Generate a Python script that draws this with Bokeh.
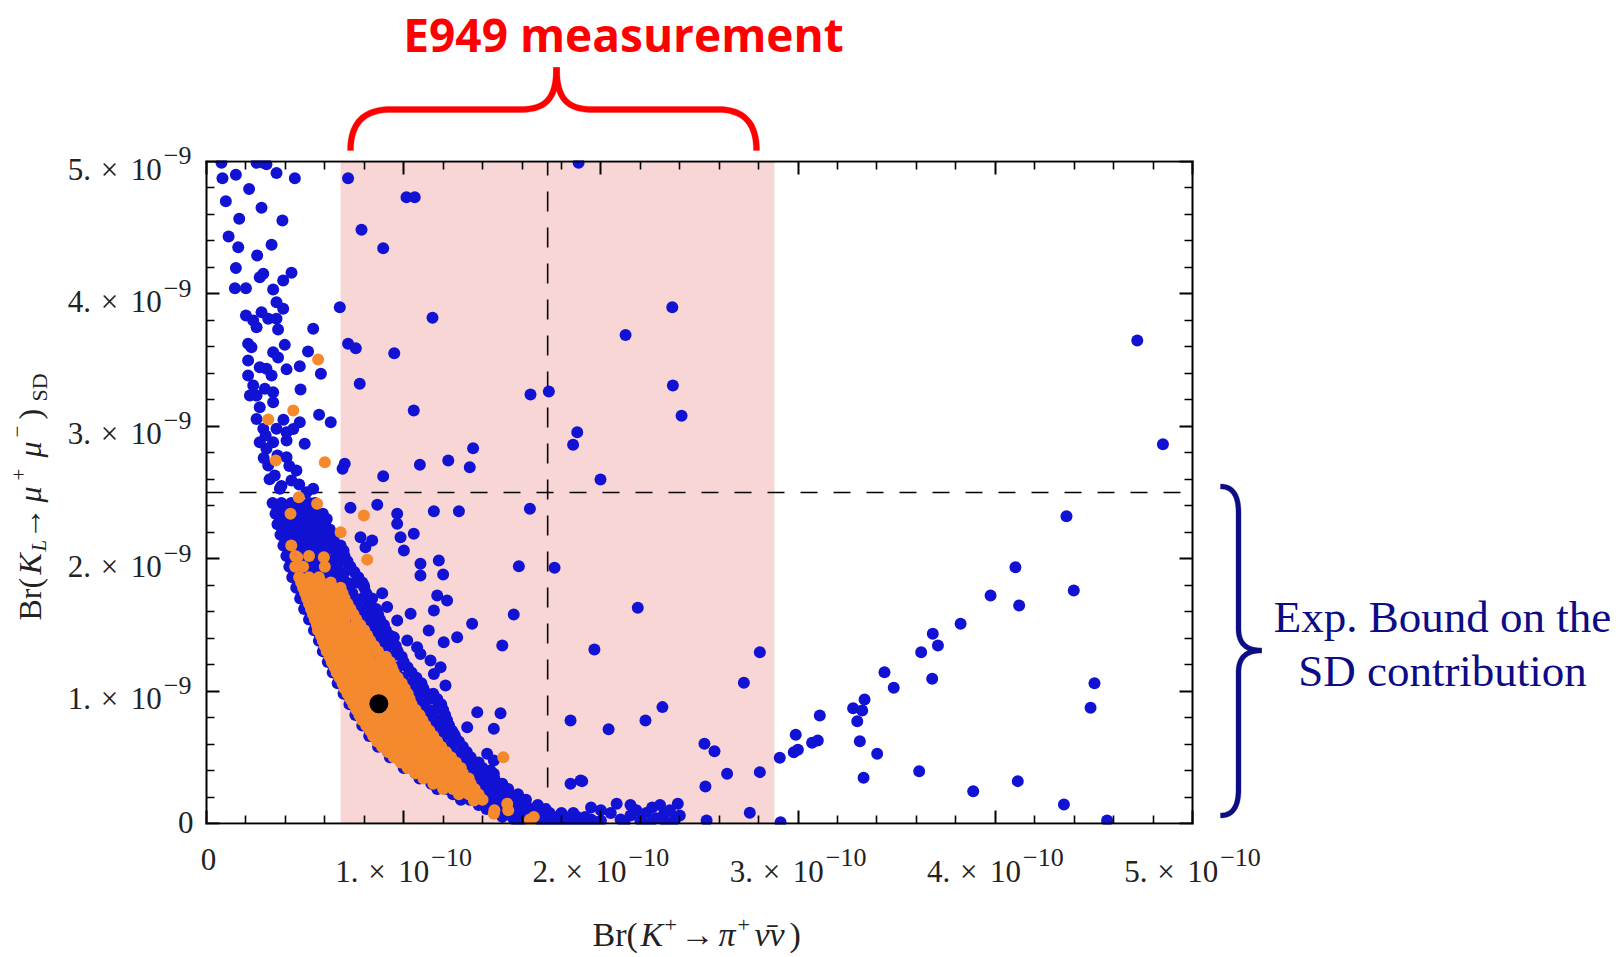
import math
from bokeh.plotting import figure
from bokeh.models import Range1d, FixedTicker, LinearAxis, Label, PolyAnnotation, BoxAnnotation
from bokeh.embed import file_html
from bokeh.resources import INLINE

# ---------------- data (x in units of 1e-10, y in units of 1e-9) ----------------
x_ticks = [0, 1, 2, 3, 4, 5]
x_tick_mantissa = ["0", "1.", "2.", "3.", "4.", "5."]
x_tick_exponent = ["", "−10", "−10", "−10", "−10", "−10"]
y_ticks = [0, 1, 2, 3, 4, 5]
y_tick_mantissa = ["0", "1.", "2.", "3.", "4.", "5."]
y_tick_exponent = ["", "−9", "−9", "−9", "−9", "−9"]
minor_ticks = [0.2, 0.4, 0.6, 0.8, 1.2, 1.4, 1.6, 1.8, 2.2, 2.4, 2.6, 2.8,
               3.2, 3.4, 3.6, 3.8, 4.2, 4.4, 4.6, 4.8]

e949_low, e949_central, e949_high = 0.68, 1.73, 2.88
sd_bound = 2.5

best_point_x = [0.874]
best_point_y = [0.904]

# dense band of blue points, read row by row (row level y, x positions)
band_blue_y = [2.42, 2.38, 2.34, 2.30, 2.26, 2.22, 2.18, 2.14, 2.10, 2.06, 2.02, 1.98,
               1.94, 1.90, 1.86, 1.82, 1.78, 1.74, 1.70, 1.66, 1.62, 1.58, 1.54, 1.50,
               1.46, 1.42, 1.38, 1.34, 1.30, 1.26, 1.22, 1.18, 1.14, 1.10, 1.06, 1.02,
               0.98, 0.94, 0.90, 0.86, 0.82, 0.78, 0.74, 0.70, 0.66, 0.62, 0.58, 0.54,
               0.50, 0.46, 0.42, 0.38, 0.34, 0.30, 0.26, 0.22, 0.18, 0.14, 0.11, 0.08,
               0.05, 0.03, 0.01]
band_blue_x = [
    [.335, .38, .43, .47, .52, .55],
    [.36, .405, .455, .50, .545],
    [.35, .395, .44, .49, .54, .59],
    [.375, .42, .465, .515, .565, .61],
    [.36, .41, .455, .50, .55, .60],
    [.385, .43, .48, .525, .575, .625],
    [.375, .42, .47, .52, .57, .62, .65],
    [.40, .445, .49, .54, .59, .645],
    [.39, .435, .48, .53, .58, .63, .68],
    [.415, .46, .505, .555, .605, .655, .695],
    [.405, .45, .50, .55, .60, .66, .70],
    [.43, .475, .525, .575, .625, .68, .715],
    [.42, .465, .51, .56, .61, .66, .73],
    [.445, .49, .54, .59, .645, .70, .75],
    [.435, .48, .53, .58, .63, .69, .77],
    [.465, .51, .56, .61, .66, .71, .765, .79],
    [.455, .50, .55, .60, .66, .72, .80],
    [.485, .53, .58, .63, .685, .74, .81],
    [.475, .52, .57, .62, .67, .73, .79, .84],
    [.505, .55, .60, .65, .70, .76, .83],
    [.495, .54, .59, .64, .69, .75, .81, .86],
    [.53, .575, .625, .675, .725, .78, .84, .87],
    [.52, .565, .61, .66, .71, .77, .83, .88],
    [.555, .60, .65, .70, .75, .80, .86, .90],
    [.545, .59, .64, .69, .74, .79, .85, .91],
    [.575, .62, .67, .72, .77, .83, .89, .93],
    [.57, .615, .66, .71, .76, .82, .88, .94],
    [.60, .645, .695, .745, .80, .86, .92, .96],
    [.59, .635, .68, .73, .78, .84, .90, .97],
    [.625, .67, .72, .77, .82, .88, .94, .99],
    [.615, .66, .71, .76, .81, .87, .93, 1.00],
    [.65, .695, .745, .795, .85, .91, .97, 1.02],
    [.64, .685, .73, .78, .83, .89, .95, 1.04],
    [.675, .72, .77, .82, .875, .935, .995, 1.065],
    [.665, .71, .76, .81, .86, .92, .98, 1.04, 1.09],
    [.70, .75, .80, .85, .905, .965, 1.03, 1.10],
    [.695, .74, .79, .84, .89, .95, 1.01, 1.08, 1.15],
    [.73, .78, .83, .88, .935, .995, 1.06, 1.13, 1.17],
    [.725, .77, .82, .87, .92, .98, 1.04, 1.10, 1.19],
    [.76, .81, .86, .91, .965, 1.025, 1.085, 1.16, 1.20],
    [.755, .80, .85, .90, .95, 1.01, 1.07, 1.14, 1.21],
    [.795, .84, .89, .94, .99, 1.05, 1.11, 1.18, 1.22],
    [.79, .835, .88, .93, .98, 1.04, 1.10, 1.17, 1.23],
    [.83, .875, .925, .975, 1.03, 1.09, 1.15, 1.21, 1.245],
    [.825, .87, .92, .97, 1.02, 1.08, 1.14, 1.20, 1.26],
    [.87, .915, .965, 1.015, 1.07, 1.13, 1.19, 1.25, 1.28],
    [.87, .915, .96, 1.01, 1.06, 1.12, 1.18, 1.24, 1.30],
    [.92, .965, 1.01, 1.06, 1.11, 1.17, 1.23, 1.29, 1.32],
    [.93, .975, 1.02, 1.07, 1.12, 1.18, 1.24, 1.29, 1.34],
    [.99, 1.035, 1.08, 1.13, 1.18, 1.24, 1.30, 1.35, 1.38],
    [1.0, 1.045, 1.09, 1.14, 1.19, 1.25, 1.31, 1.36, 1.40],
    [1.06, 1.105, 1.15, 1.20, 1.25, 1.31, 1.36, 1.41, 1.44],
    [1.08, 1.125, 1.17, 1.22, 1.27, 1.32, 1.37, 1.42, 1.46],
    [1.14, 1.185, 1.23, 1.28, 1.33, 1.38, 1.43, 1.48, 1.50],
    [1.17, 1.215, 1.26, 1.31, 1.36, 1.41, 1.46, 1.50, 1.53],
    [1.25, 1.295, 1.34, 1.39, 1.44, 1.49, 1.54, 1.58],
    [1.29, 1.335, 1.38, 1.43, 1.48, 1.53, 1.58, 1.62],
    [1.38, 1.425, 1.47, 1.52, 1.57, 1.62, 1.68],
    [1.42, 1.465, 1.51, 1.56, 1.61, 1.66, 1.72],
    [1.47, 1.52, 1.57, 1.62, 1.68, 1.74, 1.80, 1.86],
    [1.50, 1.55, 1.60, 1.65, 1.70, 1.76, 1.82, 1.88],
    [1.56, 1.61, 1.66, 1.72, 1.78, 1.84, 1.90, 1.95],
    [1.60, 1.65, 1.70, 1.75, 1.80, 1.86, 1.92, 1.98],
]

# isolated blue points (x, y)
blue_scatter = [
    (0.076, 4.99), (0.254, 4.99), (0.288, 4.99), (0.304, 4.98),
    (0.081, 4.874), (0.149, 4.90), (0.216, 4.793), (0.355, 4.914), (0.448, 4.874),
    (0.098, 4.70), (0.279, 4.65), (0.166, 4.567), (0.385, 4.554),
    (0.112, 4.434), (0.161, 4.353), (0.330, 4.371), (0.257, 4.29),
    (0.149, 4.195), (0.270, 4.126), (0.288, 4.152), (0.389, 4.101), (0.431, 4.159),
    (0.144, 4.043), (0.200, 4.043), (0.338, 4.033), (0.355, 3.937), (0.389, 3.887),
    (0.200, 3.837), (0.237, 3.799), (0.279, 3.862), (0.313, 3.812), (0.355, 3.812),
    (0.363, 3.731), (0.254, 3.749), (0.211, 3.623), (0.228, 3.597), (0.397, 3.615),
    (0.338, 3.56), (0.363, 3.52), (0.406, 3.43), (0.515, 3.565), (0.58, 3.397), (0.473, 3.454),
    (0.211, 3.497), (0.27, 3.446), (0.304, 3.434), (0.33, 3.384),
    (0.211, 3.384), (0.237, 3.308), (0.254, 3.233), (0.296, 3.283), (0.338, 3.258),
    (0.22, 3.233), (0.338, 3.182), (0.27, 3.144), (0.477, 3.278),
    (0.571, 3.087), (0.63, 3.031),
    (0.254, 3.056), (0.288, 2.981), (0.355, 2.981), (0.406, 2.955), (0.473, 3.031),
    (0.27, 2.88), (0.338, 2.88), (0.406, 2.893), (0.304, 2.83), (0.498, 2.868),
    (0.313, 2.704), (0.406, 2.767), (0.456, 2.666), (0.346, 2.628), (0.431, 2.591),
    (0.30, 2.93), (0.36, 2.78), (0.32, 2.60), (0.38, 2.55), (0.42, 2.70), (0.39, 3.05),
    (0.44, 2.98), (0.29, 2.76), (0.47, 2.56),
    (0.541, 2.528), (0.507, 2.502), (0.372, 2.528),
    (0.541, 3.736), (0.676, 3.90), (0.718, 3.623), (0.757, 3.59), (0.952, 3.552), (1.146, 3.819),
    (0.718, 4.874), (1.014, 4.73), (1.056, 4.73), (0.786, 4.484), (0.896, 4.345),
    (0.777, 3.321), (1.051, 3.119),
    (0.69, 2.679), (0.701, 2.717), (0.896, 2.623), (1.082, 2.709), (1.226, 2.742),
    (1.335, 2.691), (1.352, 2.835),
    (1.887, 4.99), (2.362, 3.90), (2.125, 3.69), (1.736, 3.263), (1.643, 3.24),
    (2.365, 3.308), (2.409, 3.08), (1.88, 2.955), (1.859, 2.86), (1.998, 2.598),
    (4.72, 3.648), (4.85, 2.865),
    (4.361, 2.321), (4.102, 1.936), (3.976, 1.722), (4.121, 1.647), (4.398, 1.76),
    (3.824, 1.508), (4.503, 1.06), (4.483, 0.874), (3.888, 0.244), (4.114, 0.32),
    (4.348, 0.143), (4.567, 0.023),
    (2.187, 1.629), (1.967, 1.314), (2.806, 1.294), (2.725, 1.063), (2.312, 0.879),
    (2.226, 0.778), (2.039, 0.712), (1.905, 0.32), (2.525, 0.602), (2.576, 0.546),
    (2.64, 0.375), (2.806, 0.388), (2.53, 0.279), (2.755, 0.081), (2.536, 0.023), (2.911, 0.01),
    (2.907, 0.496), (2.988, 0.67), (2.978, 0.539), (2.999, 0.557), (3.071, 0.61), (3.1, 0.627),
    (3.11, 0.816), (3.279, 0.871), (3.337, 0.937), (3.325, 0.853), (3.3, 0.773), (3.313, 0.622),
    (3.401, 0.526), (3.332, 0.345), (3.438, 1.143), (3.485, 1.025), (3.624, 1.294),
    (3.683, 1.433), (3.709, 1.344), (3.68, 1.093), (3.614, 0.395),
    (0.73, 2.384), (0.866, 2.407), (1.153, 2.359), (1.28, 2.359), (1.64, 2.377),
    (0.967, 2.339), (0.967, 2.264), (0.984, 2.162), (1.051, 2.188), (1.001, 2.062),
    (0.781, 2.162), (0.84, 2.137), (0.806, 2.087), (1.085, 1.961), (1.178, 1.986),
    (1.085, 1.873), (1.2, 1.881), (1.584, 1.943), (1.765, 1.931), (0.891, 1.739),
    (0.739, 1.815), (0.798, 1.798), (0.916, 1.636), (0.967, 1.533), (1.035, 1.584),
    (1.17, 1.722), (1.22, 1.684), (1.153, 1.609), (1.558, 1.579), (1.347, 1.508),
    (1.127, 1.458), (1.271, 1.407), (1.203, 1.369), (1.5, 1.344), (1.212, 1.042),
    (1.373, 0.841), (1.491, 0.833), (1.322, 0.727), (1.457, 0.715), (1.846, 0.778),
    (1.423, 0.526), (1.457, 0.476), (1.44, 0.40), (1.356, 0.40), (1.457, 0.375),
    (1.846, 0.30), (1.897, 0.325),
    (0.95, 1.407), (1.018, 1.382), (1.068, 1.332), (1.085, 1.281), (1.136, 1.231),
    (1.187, 1.18), (1.153, 1.13), (1.051, 1.03), (1.119, 0.98), (1.17, 0.929),
    (1.136, 0.853), (1.254, 0.677), (1.187, 0.652), (1.153, 0.778),
    (1.92, 0.05), (1.95, 0.12), (2.00, 0.02), (2.05, 0.08), (2.08, 0.15), (2.10, 0.03),
    (2.15, 0.06), (2.18, 0.10), (2.20, 0.02), (2.23, 0.08), (2.26, 0.12), (2.28, 0.04),
    (2.30, 0.14), (2.32, 0.07), (2.35, 0.10), (2.37, 0.02), (2.39, 0.15), (2.40, 0.06),
    (2.15, 0.14), (2.00, 0.10), (1.97, 0.00), (2.12, 0.00), (2.25, 0.00), (2.33, 0.00),
]

# orange core of the band, row by row
band_orange_y = [2.10, 2.02, 1.94, 1.86, 1.82, 1.78, 1.74, 1.70, 1.66, 1.62, 1.58, 1.54,
                 1.50, 1.46, 1.42, 1.38, 1.34, 1.30, 1.26, 1.22, 1.18, 1.14, 1.10, 1.06,
                 1.02, 0.98, 0.94, 0.90, 0.86, 0.82, 0.78, 0.74, 0.70, 0.66, 0.62, 0.58,
                 0.54, 0.50, 0.46, 0.42, 0.38, 0.34, 0.30, 0.26, 0.22, 0.18, 0.10, 0.03]
band_orange_x = [
    [.43],
    [.45, .52],
    [.45, .49, .60],
    [.47, .52, .57],
    [.48, .53, .58, .63],
    [.49, .54, .59, .64, .68],
    [.50, .55, .60, .65, .69],
    [.51, .56, .61, .66, .70],
    [.52, .57, .62, .67, .715],
    [.53, .58, .63, .68, .73],
    [.54, .59, .64, .69, .745],
    [.55, .60, .65, .70, .76],
    [.56, .605, .655, .705, .755, .78],
    [.565, .61, .66, .71, .76, .80],
    [.58, .625, .675, .725, .775, .815],
    [.59, .64, .69, .74, .79, .83],
    [.60, .65, .70, .75, .80, .85],
    [.61, .66, .71, .76, .81, .87],
    [.625, .67, .72, .77, .82, .88, .91],
    [.635, .68, .73, .78, .83, .89, .93],
    [.65, .695, .745, .795, .845, .90, .94],
    [.66, .71, .76, .81, .86, .91, .95],
    [.675, .725, .775, .825, .875, .925, .97],
    [.69, .74, .79, .84, .89, .94, .99],
    [.70, .75, .80, .85, .90, .95, 1.005],
    [.715, .76, .81, .86, .91, .96, 1.02],
    [.73, .775, .825, .875, .925, .975, 1.03],
    [.745, .79, .84, .89, .94, .99, 1.04],
    [.76, .805, .855, .905, .955, 1.005, 1.06],
    [.775, .82, .87, .92, .97, 1.02, 1.08],
    [.79, .84, .885, .935, .985, 1.035, 1.095],
    [.81, .855, .90, .95, 1.00, 1.05, 1.11],
    [.83, .875, .92, .97, 1.02, 1.07, 1.13],
    [.845, .89, .94, .99, 1.04, 1.09, 1.15],
    [.865, .91, .96, 1.01, 1.06, 1.11, 1.17],
    [.89, .935, .98, 1.03, 1.08, 1.13, 1.19],
    [.92, .965, 1.01, 1.06, 1.11, 1.16, 1.215],
    [.95, .995, 1.04, 1.09, 1.14, 1.19, 1.24],
    [.985, 1.03, 1.075, 1.125, 1.175, 1.225, 1.265],
    [1.02, 1.065, 1.11, 1.16, 1.21, 1.26, 1.29],
    [1.06, 1.105, 1.15, 1.20, 1.25, 1.30],
    [1.10, 1.145, 1.19, 1.24, 1.29, 1.33],
    [1.15, 1.20, 1.25, 1.30, 1.34],
    [1.20, 1.25, 1.30, 1.36],
    [1.28, 1.33, 1.38],
    [1.36, 1.40],
    [1.46, 1.53],
    [1.64],
]

orange_scatter = [
    (0.566, 3.505), (0.44, 3.119), (0.313, 3.051), (0.351, 2.742), (0.60, 2.729),
    (0.468, 2.465), (0.561, 2.415), (0.798, 2.326), (0.68, 2.20), (0.815, 1.993),
    (0.426, 2.339), (0.595, 2.011), (0.46, 2.011), (0.527, 1.684), (1.505, 0.501),
    (1.356, 0.174), (1.525, 0.149), (1.457, 0.073), (1.66, 0.05), (1.643, 0.015),
]

# ---------------- assemble point lists ----------------
blue_x, blue_y = [], []
for yy, row in zip(band_blue_y, band_blue_x):
    for xx in row:
        blue_x.append(xx); blue_y.append(yy)
for xx, yy in blue_scatter:
    blue_x.append(xx); blue_y.append(yy)

orange_x, orange_y = [], []
for yy, row in zip(band_orange_y, band_orange_x):
    for xx in row:
        orange_x.append(xx); orange_y.append(yy)
for xx, yy in orange_scatter:
    orange_x.append(xx); orange_y.append(yy)

# ---------------- figure ----------------
W, H = 1623, 957
FL, FR, FT, FB = 206, 1192, 161, 823   # edges of the plotting box in page pixels


def dx(X):
    return (X - FL) / (FR - FL) * 5.0


def dy(Y):
    return (FB - Y) / (FB - FT) * 5.0


p = figure(width=W, height=H, x_range=Range1d(dx(0), dx(W)), y_range=Range1d(dy(H), dy(0)),
           output_backend="svg", toolbar_location=None, title=None,
           x_axis_location=None, y_axis_location=None, min_border=0)
p.min_border_left = 0
p.min_border_right = 0
p.min_border_top = 0
p.min_border_bottom = 0
p.background_fill_color = "white"
p.border_fill_color = "white"
p.outline_line_color = None
p.xgrid.visible = False
p.ygrid.visible = False

SERIF = "Liberation Serif"
INK = "#222222"


def make_axis(loc):
    ax = LinearAxis(ticker=FixedTicker(ticks=x_ticks, minor_ticks=minor_ticks),
                    fixed_location=loc, bounds=(0, 5))
    ax.axis_line_color = "black"
    ax.axis_line_width = 2
    ax.axis_line_cap = "square"
    ax.major_tick_in = 13
    ax.major_tick_out = 0
    ax.minor_tick_in = 8
    ax.minor_tick_out = 0
    ax.major_tick_line_color = "black"
    ax.major_tick_line_width = 2
    ax.minor_tick_line_color = "black"
    ax.minor_tick_line_width = 1.6
    ax.major_label_text_font_size = "0px"
    ax.major_label_overrides = {t: "" for t in x_ticks}
    return ax


p.add_layout(make_axis(0), "below")
p.add_layout(make_axis(0), "left")
p.add_layout(make_axis(5), "above")
p.add_layout(make_axis(5), "right")

# E949 band and dashed lines
p.quad(left=[e949_low], right=[e949_high], bottom=[0], top=[5],
       fill_color="#f9d6d6", line_color=None, level="underlay")
p.line([e949_central, e949_central], [0, 5], line_color="black", line_width=1.6,
       line_dash="20 16")
p.line([0, 5], [sd_bound, sd_bound], line_color="black", line_width=1.6,
       line_dash="17 16")

# scatter points
p.scatter(blue_x, blue_y, size=12, fill_color="#1212d4", line_color=None)
p.scatter(orange_x, orange_y, size=12, fill_color="#f4892e", line_color=None)
p.scatter(best_point_x, best_point_y, size=19, fill_color="black", line_color=None)

# keep markers inside the plotting box (mask the thin strips just outside it)
px5 = 5.0 / (FB - FT)
p.add_layout(BoxAnnotation(left=dx(FL - 8), right=dx(FR + 8), bottom=5 + 1.3 * px5,
                           top=5 + 9 * px5, fill_color="white", fill_alpha=1.0,
                           line_color=None))
p.add_layout(BoxAnnotation(left=dx(FL - 8), right=dx(FR + 8), bottom=-9 * px5,
                           top=-1.3 * px5, fill_color="white", fill_alpha=1.0,
                           line_color=None))


# ---------------- texts ----------------
def label(X, Y, text, size, style="normal", color=INK, font=SERIF,
          align="left", angle=0.0):
    # (X, Y): start/center of the text baseline in page pixels
    k = 0.41 if font == "Open Sans" else 0.37
    if angle == 0.0:
        Y = Y - k * size
    else:
        X = X - k * size
    p.add_layout(Label(x=dx(X), y=dy(Y), x_units="data", y_units="data", text=text,
                       text_font=font, text_font_size=f"{size}px",
                       text_font_style=style, text_color=color, text_align=align,
                       text_baseline="alphabetic", angle=angle))


MFS, EFS = 31, 26


def exp_width(e):
    return 0.564 * EFS + 0.5 * EFS * (len(e) - 1)


def tick_label(left, base_y, mant, exp):
    label(left, base_y, mant, MFS)
    label(left + 33, base_y, "×", MFS)
    label(left + 63, base_y, "10", MFS)
    label(left + 96, base_y - 15, exp, EFS)


for v, m, e in zip(y_ticks, y_tick_mantissa, y_tick_exponent):
    ty = FB - v * (FB - FT) / 5.0
    if e == "":
        label(193, ty + 10, m, MFS, align="right")
    else:
        total = 96 + exp_width(e)
        tick_label(191 - total, ty + 19, m, e)

for v, m, e in zip(x_ticks, x_tick_mantissa, x_tick_exponent):
    tx = FL + v * (FR - FL) / 5.0
    if e == "":
        label(tx + 2, 870, m, MFS, align="center")
    else:
        total = 96 + exp_width(e)
        tick_label(tx - total / 2, 882, m, e)

# y axis title pieces: (text, baseline x, start y, size, style)
ROT = math.pi / 2
for t, bx, sy, sz, st in [("Br(", 41, 620, 32, "normal"), ("K", 41, 574, 32, "italic"),
                          ("L", 46, 551, 21, "italic"), ("→", 41, 539, 32, "normal"),
                          ("μ", 41, 502, 32, "italic"), ("+", 26, 480, 21, "normal"),
                          ("μ", 41, 457, 32, "italic"), ("−", 24, 437, 21, "normal"),
                          (")", 41, 419, 32, "normal"), ("SD", 47, 401, 22, "normal")]:
    label(bx, sy, t, sz, st, angle=ROT)

# x axis title pieces: (text, start x, baseline y, size, style)
for t, sx, by, sz, st in [("Br(", 592, 947, 34, "normal"), ("K", 640, 947, 34, "italic"),
                          ("+", 664, 933, 22, "normal"), ("→", 680, 947, 34, "normal"),
                          ("π", 718, 947, 34, "italic"), ("+", 737, 933, 22, "normal"),
                          ("ν̄ν", 754, 947, 34, "italic"), (")", 789, 947, 34, "normal")]:
    label(sx, by, t, sz, st)

# annotation texts
label(623, 52, "E949 measurement", 46, "bold", color="#ff0000", font="Open Sans",
      align="center")
label(1442, 633, "Exp. Bound on the", 45, color="#0c0c84", align="center")
label(1442, 687, "SD contribution", 45, color="#0c0c84", align="center")


# ---------------- braces ----------------
def cubic(p0, p1, p2, p3, n=24):
    out = []
    for i in range(n + 1):
        t = i / n
        a, b, c, d = (1 - t) ** 3, 3 * (1 - t) ** 2 * t, 3 * (1 - t) * t ** 2, t ** 3
        out.append((a * p0[0] + b * p1[0] + c * p2[0] + d * p3[0],
                    a * p0[1] + b * p1[1] + c * p2[1] + d * p3[1]))
    return out


def quad(p0, c, p2, n=24):
    p1 = (p0[0] + 2 / 3 * (c[0] - p0[0]), p0[1] + 2 / 3 * (c[1] - p0[1]))
    p2b = (p2[0] + 2 / 3 * (c[0] - p2[0]), p2[1] + 2 / 3 * (c[1] - p2[1]))
    return cubic(p0, p1, p2b, p2, n)


def stroke(segments, w, color):
    pts = []
    for seg in segments:
        for q in seg:
            if not pts or math.hypot(q[0] - pts[-1][0], q[1] - pts[-1][1]) > 1e-6:
                pts.append(q)
    n = len(pts)
    left, right = [], []
    for i in range(n):
        x0, y0 = pts[max(i - 1, 0)]
        x1, y1 = pts[min(i + 1, n - 1)]
        tx, ty = x1 - x0, y1 - y0
        d = math.hypot(tx, ty) or 1.0
        nx, ny = -ty / d, tx / d
        x, y = pts[i]
        left.append((x + nx * w / 2, y + ny * w / 2))
        right.append((x - nx * w / 2, y - ny * w / 2))
    poly = left + right[::-1]
    p.add_layout(PolyAnnotation(xs=[dx(a) for a, b in poly], ys=[dy(b) for a, b in poly],
                                xs_units="data", ys_units="data",
                                fill_color=color, fill_alpha=1.0,
                                line_color=color, line_width=1))


# red brace over the E949 band
stroke([quad((350, 150), (350, 109), (390, 109)), [(390, 109), (520, 109)],
        cubic((520, 109), (547, 109), (556, 96), (556, 67))], 6, "#ff0000")
stroke([cubic((556, 67), (556, 96), (565, 109), (592, 109)), [(592, 109), (718, 109)],
        quad((718, 109), (756, 109), (756, 150))], 6, "#ff0000")

# navy brace next to the SD bound
stroke([quad((1220, 486), (1238, 486), (1238, 512)), [(1238, 512), (1238, 628)],
        cubic((1238, 628), (1238, 645), (1248, 650), (1261, 650))], 5, "#0c0c84")
stroke([cubic((1261, 650), (1248, 650), (1238, 655), (1238, 672)), [(1238, 672), (1238, 789)],
        quad((1238, 789), (1238, 815), (1220, 815))], 5, "#0c0c84")

open("out.html", "w").write(file_html(p, INLINE))
